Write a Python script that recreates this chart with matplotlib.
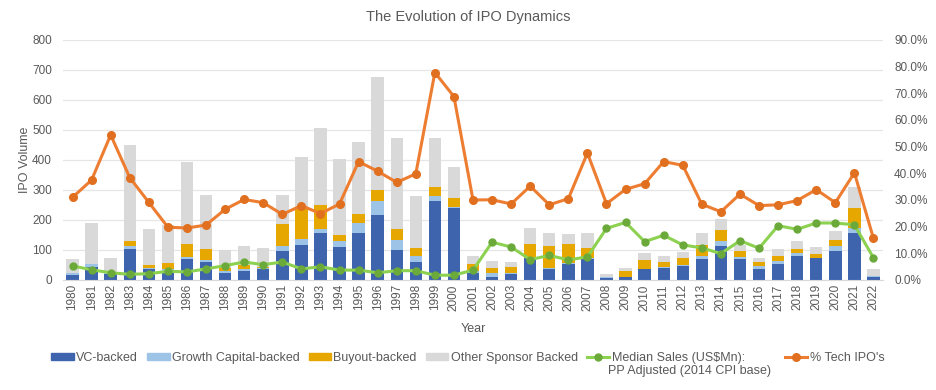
import matplotlib.pyplot as plt
import numpy as np
from matplotlib.lines import Line2D
from matplotlib.patches import Patch

plt.rcParams["font.family"] = ["Liberation Sans", "DejaVu Sans"]

years = list(range(1980, 2023))

vc_backed = [17, 44, 19, 103, 37, 31, 71, 61, 24, 30, 37, 98, 117, 158, 111,
             156, 218, 100, 60, 263, 241, 22, 9, 21, 72, 38, 52, 71, 6, 10,
             36, 41, 46, 69, 113, 69, 36, 53, 80, 72, 98, 156, 11]
growth_backed = [5, 8, 3, 11, 4, 7, 7, 6, 6, 7, 3, 16, 21, 12, 19,
                 33, 45, 33, 20, 18, 3, 8, 13, 1, 2, 3, 4, 3, 3, 1,
                 2, 2, 3, 11, 17, 7, 11, 10, 10, 2, 15, 18, 1]
buyout_backed = [2, 2, 1, 17, 9, 19, 42, 36, 11, 12, 4, 73, 99, 80, 20,
                 32, 37, 37, 28, 30, 30, 22, 19, 22, 47, 71, 65, 34, 2, 18,
                 29, 18, 25, 37, 37, 22, 12, 17, 14, 13, 20, 67, 1]
other_backed = [45, 136, 49, 319, 119, 127, 273, 180, 60, 63, 62, 96, 173, 257, 252,
                239, 377, 303, 173, 163, 104, 27, 22, 15, 52, 46, 32, 50, 9, 11,
                23, 18, 19, 41, 36, 19, 13, 23, 27, 23, 30, 69, 23]

median_sales = [47, 34, 24, 19, 21, 29, 27, 37, 48, 60, 51, 60, 37, 44, 33,
                33, 24, 31, 31, 16, 16, 33, 126, 110, 68, 82, 67, 77, 172, 192,
                128, 149, 117, 107, 88, 131, 106, 181, 169, 190, 190, 184, 74]
tech_share = [31.0, 37.5, 54.4, 38.4, 29.1, 19.8, 19.5, 20.6, 26.5, 30.2, 29.0, 24.6, 27.9, 24.9, 28.5,
              44.4, 40.8, 36.6, 39.8, 77.8, 68.8, 30.0, 30.1, 28.5, 35.2, 28.2, 30.5, 47.6, 28.6, 34.0,
              36.1, 44.4, 43.0, 28.4, 25.6, 32.2, 27.9, 28.2, 29.8, 33.9, 29.0, 40.2, 15.6]

c_vc = "#3E64AD"
c_growth = "#9DC3E6"
c_buyout = "#E6A800"
c_other = "#D9D9D9"
c_green = "#8CD150"
c_green_dark = "#6BAA3A"
c_orange = "#ED7D31"
c_orange_dark = "#E0701F"
c_text = "#595959"

W, H = 936, 390
fig = plt.figure(figsize=(W / 100, H / 100), dpi=100)
ax = fig.add_axes([63 / W, 1 - 280 / H, 820 / W, 240 / H])
ax2 = ax.twinx()

x = np.arange(len(years))
w = 0.65
vc = np.array(vc_backed)
gr = np.array(growth_backed)
bo = np.array(buyout_backed)
ot = np.array(other_backed)
ax.bar(x, vc, w, color=c_vc, zorder=2)
ax.bar(x, gr, w, bottom=vc, color=c_growth, zorder=2)
ax.bar(x, bo, w, bottom=vc + gr, color=c_buyout, zorder=2)
ax.bar(x, ot, w, bottom=vc + gr + bo, color=c_other, zorder=2)
ax.plot(x, median_sales, color=c_green, lw=2.2, marker="o", ms=5,
        mfc=c_green_dark, mec=c_green_dark, zorder=3)

ax2.plot(x, np.array(tech_share) / 100, color=c_orange, lw=2.2, marker="o", ms=5.5,
         mfc=c_orange_dark, mec=c_orange_dark, zorder=3)

ax.set_xlim(-0.5, len(years) - 0.5)
ax.set_ylim(0, 800)
ax.set_yticks(range(0, 801, 100))
ax2.set_ylim(0, 0.9)
pct = np.arange(0, 0.91, 0.1)
ax2.set_yticks(pct)
ax2.set_yticklabels([f"{v * 100:.1f}%" for v in pct])

ax.set_xticks(x)
ax.set_xticklabels([str(y) for y in years], rotation=90)
ax.grid(axis="y", color="#E6E6E6", lw=0.9, zorder=0)
ax.set_axisbelow(True)
for a in (ax, ax2):
    for s in a.spines.values():
        s.set_visible(False)
    a.tick_params(length=0, labelsize=8.5, colors=c_text)
ax.spines["bottom"].set_visible(True)
ax.spines["bottom"].set_color("#D9D9D9")
ax.tick_params(axis="x", pad=3)
ax.tick_params(axis="y", pad=8)
ax2.tick_params(axis="y", pad=8)

ax.set_ylabel("IPO Volume", fontsize=9, color=c_text, labelpad=1)
ax.set_xlabel("Year", fontsize=9, color=c_text, labelpad=9)
fig.text(0.5, 1 - 17 / H, "The Evolution of IPO Dynamics", ha="center", va="center",
         fontsize=10.5, color=c_text)

# legend: second line of the median sales label is added separately below
handles = [
    Patch(color=c_vc, label="VC-backed"),
    Patch(color=c_growth, label="Growth Capital-backed"),
    Patch(color=c_buyout, label="Buyout-backed"),
    Patch(color=c_other, label="Other Sponsor Backed"),
    Line2D([], [], color=c_green, lw=2.2, marker="o", ms=5, mfc=c_green_dark, mec=c_green_dark,
           label="Median Sales (US$Mn):         "),
    Line2D([], [], color=c_orange, lw=2.2, marker="o", ms=5.5, mfc=c_orange_dark, mec=c_orange_dark,
           label="% Tech IPO's"),
]
leg = fig.legend(handles=handles, loc="center", bbox_to_anchor=(0.5, 1 - 358 / H), ncol=6,
                 frameon=False, fontsize=9, handlelength=1.8, handleheight=0.5,
                 handletextpad=0.2, columnspacing=0.7)
for t in leg.get_texts():
    t.set_color(c_text)

fig.canvas.draw()
bb = leg.get_texts()[4].get_window_extent()
fig.text((bb.x0 - 3) / W, (bb.y0 - 1) / H, "PP Adjusted (2014 CPI base)", ha="left", va="top",
         fontsize=9, color=c_text)

fig.savefig("out.png", dpi=100)
